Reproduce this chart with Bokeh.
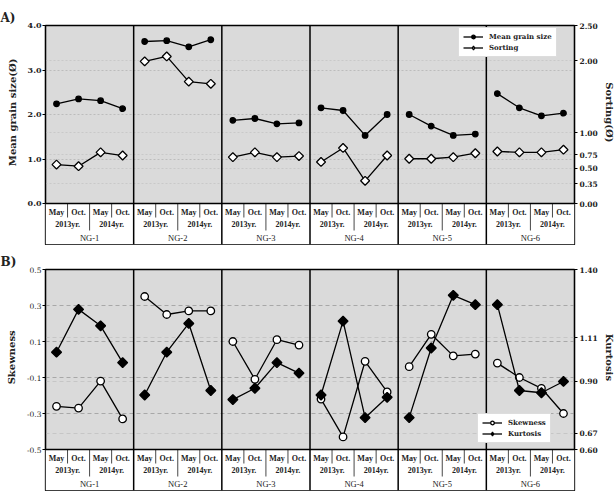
import numpy as np
from bokeh.plotting import figure
from bokeh.layouts import column
from bokeh.models import (FactorRange, Range1d, LinearAxis, FixedTicker, Span,
                          Legend, LegendItem, Grid, NumeralTickFormatter)
from bokeh.embed import file_html
from bokeh.resources import INLINE

# ---- data -------------------------------------------------------------
groups = ["NG-1", "NG-2", "NG-3", "NG-4", "NG-5", "NG-6"]
years = ["2013yr.", "2014yr."]
months = ["May", "Oct."]

mean_grain_size = [2.24, 2.35, 2.31, 2.13, 3.64, 3.66, 3.52, 3.68,
                   1.87, 1.91, 1.79, 1.81, 2.15, 2.09, 1.53, 2.00,
                   2.00, 1.74, 1.53, 1.56, 2.47, 2.15, 1.97, 2.03]
sorting = [0.57, 0.54, 0.78, 0.74, 1.99, 2.06, 1.71, 1.68,
           0.71, 0.78, 0.71, 0.73, 0.62, 0.83, 0.38, 0.74,
           0.68, 0.68, 0.71, 0.77, 0.79, 0.78, 0.78, 0.81]
skewness = [-0.26, -0.27, -0.12, -0.33, 0.35, 0.25, 0.27, 0.27,
            0.10, -0.11, 0.11, 0.08, -0.22, -0.43, -0.01, -0.18,
            -0.04, 0.14, 0.02, 0.03, -0.02, -0.10, -0.16, -0.30]
kurtosis = [1.04, 1.23, 1.16, 0.99, 0.84, 1.04, 1.17, 0.86,
            0.82, 0.87, 0.99, 0.94, 0.84, 1.18, 0.74, 0.83,
            0.74, 1.06, 1.29, 1.25, 1.25, 0.86, 0.85, 0.90]

# axis ticks
mean_ticks = [0, 1, 2, 3, 4]
sorting_ticks = [0.00, 0.35, 0.50, 0.75, 1.00, 2.00, 2.50]
sorting_tick_pos = [0.0, 0.44, 0.79, 1.09, 1.585, 3.21, 4.0]   # where they sit on the left scale
skew_ticks = [-0.5, -0.3, -0.1, 0.1, 0.3, 0.5]
kurt_ticks = [0.60, 0.67, 0.90, 1.11, 1.40]
kurt_tick_pos = [-0.5, -0.411, -0.122, 0.122, 0.5]

factors = [(g, y, m) for g in groups for y in years for m in months]
year_factors = [(g, y) for g in groups for y in years]

SERIF = "DejaVu Serif"
TABLE_FONT = "Liberation Serif"
TABLE_PX = 41
FRAME_W = 529
LEFT = 45
RIGHT = 41
PER = len(years) * len(months)
N = len(factors)
INK = "#222222"
# the frame also holds the category table; padding with no-break spaces keeps
# the axis titles centred on the plotting area above it
PAD = "\u00a0" * 13


def style_axis(ax, label, size, bold, standoff, title_standoff):
    ax.axis_line_color = "black"
    ax.axis_line_width = 1.3
    ax.major_tick_out = 3
    ax.major_tick_in = 0
    ax.minor_tick_line_color = None
    ax.major_label_standoff = standoff
    ax.major_label_text_font = SERIF
    ax.major_label_text_font_size = size
    ax.major_label_text_font_style = "bold" if bold else "normal"
    ax.major_label_text_color = INK
    ax.axis_label = label
    ax.axis_label_text_font = SERIF
    ax.axis_label_text_font_size = "10px"
    ax.axis_label_text_font_style = "bold"
    ax.axis_label_text_color = INK
    ax.axis_label_standoff = title_standoff


def panel(frame_h, top_border, y_lo, y_hi, left_ticks, left_label, left_bold,
          right_ticks, right_pos, right_label, series, legend_xy, letter,
          grid_main, grid_extra):
    plot_px = frame_h - TABLE_PX
    upp = (y_hi - y_lo) / plot_px
    y_min = y_lo - TABLE_PX * upp

    def below(px):
        return y_lo - px * upp

    p = figure(frame_width=FRAME_W, frame_height=frame_h,
               x_range=FactorRange(*factors, group_padding=0, subgroup_padding=0,
                                   range_padding=0),
               y_range=Range1d(y_min, y_hi),
               x_axis_location=None, toolbar_location=None, output_backend="svg",
               min_border_left=LEFT, min_border_right=RIGHT,
               min_border_top=top_border, min_border_bottom=1)
    p.background_fill_color = "#dadada"
    p.border_fill_color = "white"
    p.outline_line_color = "black"
    p.outline_line_width = 1.3
    p.xgrid.visible = False

    # panel letter
    p.title.text = letter
    p.title.align = "left"
    p.title.offset = -LEFT
    p.title.standoff = 1
    p.title.text_font = SERIF
    p.title.text_font_size = "12px"
    p.title.text_font_style = "bold"
    p.title.text_color = INK

    ya = p.yaxis[0]
    ya.ticker = FixedTicker(ticks=left_ticks)
    ya.formatter = NumeralTickFormatter(format="0.0")
    ya.bounds = (y_lo, y_hi)
    style_axis(ya, PAD + left_label, "8px" if left_bold else "7.5px", left_bold, 1, 7)

    # right axis: its own tick values placed on the left scale
    ra = LinearAxis(ticker=FixedTicker(ticks=right_pos), bounds=(y_lo, y_hi),
                    major_label_overrides={pos: f"{t:.2f}" for pos, t in zip(right_pos, right_ticks)})
    style_axis(ra, right_label + PAD, "7.5px", True, 2, 3)
    p.add_layout(ra, "right")

    # grid lines
    p.ygrid.ticker = FixedTicker(ticks=left_ticks[1:-1])
    p.ygrid.grid_line_color = grid_main[0]
    p.ygrid.grid_line_dash = grid_main[1]
    p.ygrid.grid_line_width = 1
    p.add_layout(Grid(dimension=1, ticker=FixedTicker(ticks=right_pos[1:-1]),
                      grid_line_color=grid_extra[0], grid_line_dash=grid_extra[1],
                      grid_line_width=1))

    # category table below the plotting area
    p.quad(left=0, right=N, top=y_lo, bottom=y_min, fill_color="white", line_color=None)
    p.add_layout(Span(location=y_lo, dimension="width", line_color="black", line_width=1.3))
    gx = [PER * k for k in range(1, len(groups))]
    p.segment(x0=gx, y0=[y_min] * len(gx), x1=gx, y1=[y_hi] * len(gx),
              line_color="black", line_width=1.5)
    mx = [PER * k + o for k in range(len(groups)) for o in (1, 3)]
    p.segment(x0=mx, y0=[y_lo] * len(mx), x1=mx, y1=[below(14)] * len(mx),
              line_color="#333333", line_width=0.9)
    yx = [PER * k + 2 for k in range(len(groups))]
    p.segment(x0=yx, y0=[y_lo] * len(yx), x1=yx, y1=[below(27)] * len(yx),
              line_color="#333333", line_width=0.9)

    tstyle = dict(text_align="center", text_baseline="middle", text_color=INK,
                  text_font=TABLE_FONT)
    p.text(x=factors, y=[y_lo] * N, text=[f[2] for f in factors], y_offset=8.5,
           text_font_size="8px", text_font_style="bold", **tstyle)
    p.text(x=year_factors, y=[y_lo] * len(year_factors), text=[f[1] for f in year_factors],
           y_offset=21, text_font_size="8px", text_font_style="bold", **tstyle)
    p.text(x=groups, y=[y_lo] * len(groups), text=groups, y_offset=34,
           text_font_size="8.5px", text_font_style="normal", **tstyle)

    # data series: one line per station, markers on top
    items = []
    for s in series:
        first = None
        for k in range(len(groups)):
            sl = slice(PER * k, PER * (k + 1))
            r = p.line(x=factors[sl], y=s["y"][sl], line_color="black", line_width=1.3)
            first = first or r
        p.scatter(x=factors, y=s["y"], marker=s["marker"], size=s["size"],
                  angle=s["angle"], fill_color=s["fill"], line_color="black", line_width=1.3)
        # legend swatch (rotated squares are drawn unrotated in legends)
        key = p.scatter(x=factors[:1], y=[np.nan], marker=s["legend_marker"],
                        size=s["size"], fill_color=s["fill"], line_color="black",
                        line_width=1.3)
        items.append(LegendItem(label=s["label"], renderers=[first, key]))

    leg = Legend(items=items, location=legend_xy, glyph_width=20, glyph_height=9,
                 label_height=9, spacing=2, padding=4, margin=0, label_standoff=6,
                 label_text_font=SERIF, label_text_font_size="7px",
                 label_text_font_style="bold", label_text_color=INK,
                 border_line_color="#bbbbbb", border_line_width=1,
                 background_fill_color="white", background_fill_alpha=1)
    p.add_layout(leg)
    return p


sorting_pos = np.interp(sorting, sorting_ticks, sorting_tick_pos)
kurt_pos = np.interp(kurtosis, kurt_ticks, kurt_tick_pos)

top = panel(frame_h=219, top_border=25, y_lo=0.0, y_hi=4.0, left_ticks=mean_ticks,
            left_label="Mean grain size(Ø)", left_bold=True,
            right_ticks=sorting_ticks, right_pos=sorting_tick_pos, right_label="Sorting(Ø)",
            series=[dict(y=list(mean_grain_size), marker="circle", size=5.5, angle=0.0,
                         fill="black", legend_marker="circle", label="Mean grain size"),
                    dict(y=list(sorting_pos), marker="square", size=6.3, angle=np.pi / 4,
                         fill="white", legend_marker="diamond", label="Sorting")],
            legend_xy=(413, 187), letter="A)",
            grid_main=("#bcbcbc", "2 2"), grid_extra=("#c9c9c9", "2 2"))

bottom = panel(frame_h=221, top_border=24, y_lo=-0.5, y_hi=0.5, left_ticks=skew_ticks,
               left_label="Skewness", left_bold=False,
               right_ticks=kurt_ticks, right_pos=kurt_tick_pos, right_label="Kurtosis",
               series=[dict(y=list(skewness), marker="circle", size=7.5, angle=0.0,
                            fill="white", legend_marker="circle", label="Skewness"),
                       dict(y=list(kurt_pos), marker="square", size=7, angle=np.pi / 4,
                            fill="black", legend_marker="diamond", label="Kurtosis")],
               legend_xy=(432, 47), letter="B)",
               grid_main=("#a8a8a8", "4 3"), grid_extra=("#c6c6c6", "4 3"))

layout = column(top, bottom, spacing=0)
open("out.html", "w").write(file_html(layout, INLINE))
